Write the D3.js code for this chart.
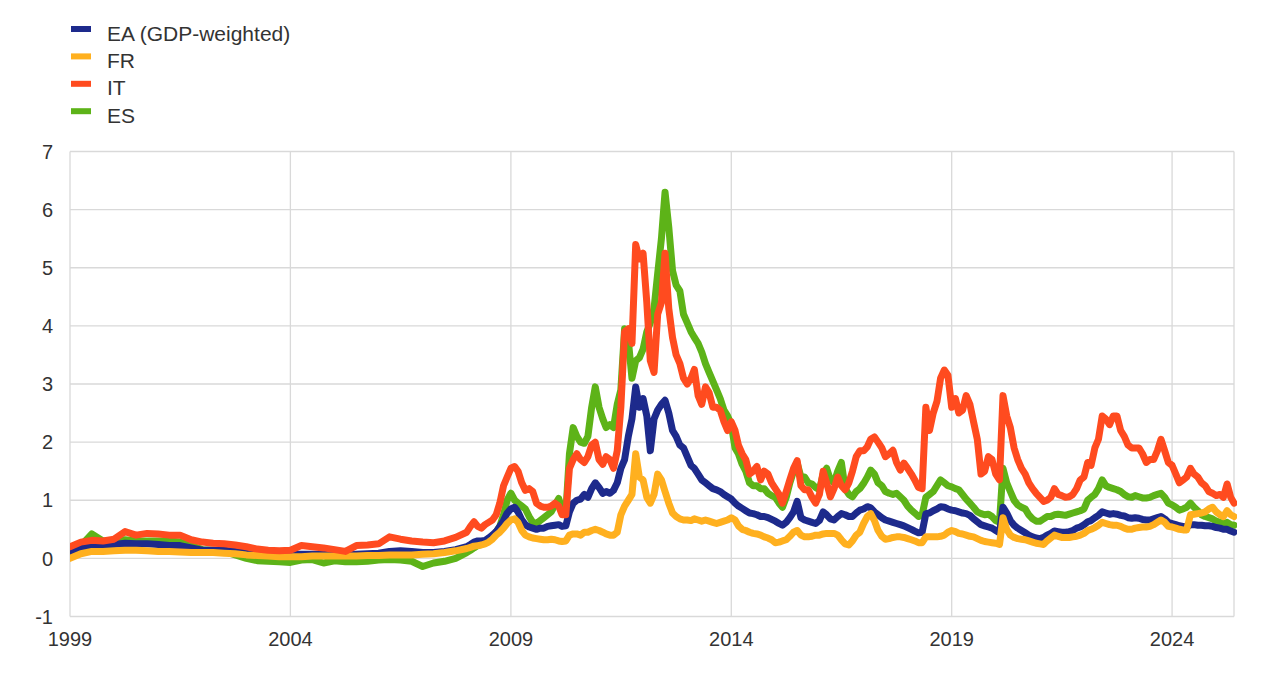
<!DOCTYPE html>
<html>
<head>
<meta charset="utf-8">
<script src="https://cdn.jsdelivr.net/npm/d3@7"></script>
<style>
  html, body { margin: 0; padding: 0; background: #fff; }
  svg { display: block; font-family: "Liberation Sans", Arial, sans-serif; }
</style>
</head>
<body>
<svg id="chart" width="1273" height="695"></svg>
<script>
// ---------------- DATA ----------------
const dates = [
  "1999-01","1999-04","1999-07","1999-10",
  "2000-01","2000-04","2000-07","2000-10",
  "2001-01","2001-04","2001-07","2001-10",
  "2002-01","2002-04","2002-07","2002-10",
  "2003-01","2003-04","2003-07","2003-10",
  "2004-01","2004-04","2004-07","2004-10",
  "2005-01","2005-04","2005-07","2005-10",
  "2006-01","2006-04","2006-07","2006-10",
  "2007-01","2007-04","2007-07","2007-10",
  "2008-01","2008-02","2008-03","2008-04","2008-05","2008-06","2008-07","2008-08","2008-09","2008-10","2008-11","2008-12",
  "2009-01","2009-02","2009-03","2009-04","2009-05","2009-06","2009-07","2009-08","2009-09","2009-10","2009-11","2009-12",
  "2010-01","2010-02","2010-03","2010-04","2010-05","2010-06","2010-07","2010-08","2010-09","2010-10","2010-11","2010-12",
  "2011-01","2011-02","2011-03","2011-04","2011-05","2011-06","2011-07","2011-08","2011-09","2011-10","2011-11","2011-12",
  "2012-01","2012-02","2012-03","2012-04","2012-05","2012-06","2012-07","2012-08","2012-09","2012-10","2012-11","2012-12",
  "2013-01","2013-02","2013-03","2013-04","2013-05","2013-06","2013-07","2013-08","2013-09","2013-10","2013-11","2013-12",
  "2014-01","2014-02","2014-03","2014-04","2014-05","2014-06","2014-07","2014-08","2014-09","2014-10","2014-11","2014-12",
  "2015-01","2015-02","2015-03","2015-04","2015-05","2015-06","2015-07","2015-08","2015-09","2015-10","2015-11","2015-12",
  "2016-01","2016-02","2016-03","2016-04","2016-05","2016-06","2016-07","2016-08","2016-09","2016-10","2016-11","2016-12",
  "2017-01","2017-02","2017-03","2017-04","2017-05","2017-06","2017-07","2017-08","2017-09","2017-10","2017-11","2017-12",
  "2018-01","2018-02","2018-03","2018-04","2018-05","2018-06","2018-07","2018-08","2018-09","2018-10","2018-11","2018-12",
  "2019-01","2019-02","2019-03","2019-04","2019-05","2019-06","2019-07","2019-08","2019-09","2019-10","2019-11","2019-12",
  "2020-01","2020-02","2020-03","2020-04","2020-05","2020-06","2020-07","2020-08","2020-09","2020-10","2020-11","2020-12",
  "2021-01","2021-02","2021-03","2021-04","2021-05","2021-06","2021-07","2021-08","2021-09","2021-10","2021-11","2021-12",
  "2022-01","2022-02","2022-03","2022-04","2022-05","2022-06","2022-07","2022-08","2022-09","2022-10","2022-11","2022-12",
  "2023-01","2023-02","2023-03","2023-04","2023-05","2023-06","2023-07","2023-08","2023-09","2023-10","2023-11","2023-12",
  "2024-01","2024-02","2024-03","2024-04","2024-05","2024-06","2024-07","2024-08","2024-09","2024-10","2024-11","2024-12",
  "2025-01","2025-02","2025-03","2025-04","2025-05","2025-05-28"
];

const EA = [
  0.12,0.18,0.22,0.22, 0.24,0.26,0.25,0.25, 0.24,0.22,0.22,0.18, 0.14,0.14,0.14,0.12,
  0.10,0.08,0.07,0.07, 0.07,0.07,0.07,0.07, 0.07,0.06,0.07,0.08, 0.09,0.12,0.13,0.12,
  0.10,0.10,0.12,0.15,
  0.20,0.24,0.28,0.30,0.30,0.31,0.35,0.40,0.46,0.55,0.65,0.78,
  0.85,0.88,0.80,0.66,0.58,0.54,0.52,0.50,0.52,0.52,0.55,0.56,
  0.57,0.58,0.55,0.56,0.80,0.95,1.00,1.02,1.10,1.05,1.20,1.30,
  1.22,1.12,1.15,1.12,1.17,1.30,1.55,1.70,2.10,2.40,2.95,2.60,
  2.75,2.45,1.85,2.40,2.55,2.65,2.72,2.50,2.20,2.10,1.95,1.90,
  1.75,1.60,1.55,1.45,1.35,1.30,1.25,1.20,1.18,1.15,1.10,1.06,
  1.02,0.95,0.90,0.86,0.82,0.78,0.77,0.75,0.72,0.72,0.70,0.67,
  0.64,0.60,0.57,0.62,0.70,0.80,0.98,0.70,0.66,0.64,0.62,0.60,
  0.65,0.80,0.75,0.68,0.66,0.72,0.77,0.75,0.72,0.72,0.78,0.83,
  0.85,0.89,0.87,0.80,0.75,0.70,0.66,0.64,0.62,0.60,0.58,0.56,
  0.53,0.50,0.47,0.44,0.45,0.77,0.78,0.82,0.85,0.89,0.88,0.85,
  0.83,0.82,0.80,0.78,0.77,0.74,0.68,0.63,0.58,0.56,0.54,0.52,
  0.48,0.44,0.88,0.78,0.65,0.57,0.52,0.48,0.44,0.40,0.37,0.35,
  0.34,0.36,0.40,0.43,0.47,0.46,0.45,0.45,0.46,0.48,0.52,0.54,
  0.58,0.63,0.65,0.70,0.74,0.80,0.78,0.76,0.77,0.76,0.74,0.73,
  0.70,0.69,0.70,0.69,0.67,0.66,0.66,0.68,0.70,0.72,0.68,0.62,
  0.60,0.58,0.56,0.55,0.54,0.58,0.58,0.57,0.57,0.56,0.56,0.55,
  0.53,0.52,0.50,0.50,0.47,0.45
];

const FR = [
  0.00,0.08,0.12,0.12, 0.13,0.14,0.14,0.13, 0.12,0.12,0.11,0.10, 0.10,0.10,0.09,0.08,
  0.06,0.05,0.04,0.03, 0.03,0.03,0.04,0.04, 0.04,0.04,0.04,0.05, 0.05,0.06,0.06,0.06,
  0.07,0.08,0.10,0.13,
  0.17,0.19,0.21,0.22,0.23,0.25,0.28,0.33,0.40,0.45,0.52,0.60,
  0.66,0.68,0.62,0.48,0.40,0.37,0.35,0.34,0.33,0.32,0.32,0.33,
  0.32,0.30,0.29,0.30,0.40,0.42,0.42,0.40,0.45,0.45,0.48,0.50,
  0.48,0.45,0.42,0.40,0.40,0.45,0.75,0.90,1.00,1.10,1.80,1.40,
  1.35,1.05,0.95,1.10,1.45,1.35,1.15,0.95,0.78,0.72,0.68,0.66,
  0.66,0.65,0.68,0.66,0.64,0.66,0.64,0.62,0.60,0.62,0.64,0.66,
  0.70,0.66,0.56,0.50,0.48,0.45,0.43,0.42,0.40,0.37,0.35,0.32,
  0.27,0.28,0.30,0.32,0.38,0.45,0.48,0.40,0.37,0.37,0.38,0.40,
  0.40,0.42,0.43,0.43,0.43,0.40,0.32,0.25,0.23,0.30,0.40,0.45,
  0.60,0.72,0.77,0.65,0.48,0.38,0.33,0.34,0.36,0.37,0.37,0.36,
  0.34,0.32,0.30,0.27,0.27,0.37,0.37,0.37,0.37,0.38,0.40,0.45,
  0.48,0.46,0.43,0.42,0.40,0.38,0.37,0.34,0.31,0.29,0.28,0.27,
  0.26,0.24,0.70,0.50,0.40,0.36,0.34,0.33,0.32,0.30,0.28,0.26,
  0.25,0.24,0.30,0.35,0.40,0.38,0.36,0.36,0.36,0.37,0.38,0.40,
  0.43,0.48,0.50,0.53,0.57,0.62,0.60,0.58,0.57,0.57,0.55,0.52,
  0.50,0.50,0.52,0.53,0.54,0.54,0.55,0.58,0.62,0.66,0.62,0.55,
  0.54,0.52,0.50,0.49,0.49,0.75,0.76,0.77,0.78,0.80,0.85,0.88,
  0.80,0.75,0.72,0.82,0.75,0.72
];

const IT = [
  0.20,0.28,0.31,0.30, 0.33,0.46,0.40,0.43, 0.42,0.40,0.40,0.32, 0.28,0.26,0.25,0.23,
  0.20,0.16,0.14,0.13, 0.14,0.22,0.20,0.18, 0.15,0.12,0.22,0.23, 0.25,0.37,0.33,0.30,
  0.28,0.27,0.30,0.36,
  0.45,0.55,0.63,0.55,0.52,0.58,0.62,0.66,0.75,0.95,1.25,1.40,
  1.55,1.58,1.50,1.30,1.17,1.20,1.15,0.95,0.90,0.88,0.88,0.90,
  0.95,0.90,0.75,0.75,1.55,1.70,1.80,1.70,1.65,1.75,1.95,2.00,
  1.70,1.62,1.75,1.70,1.55,1.85,2.60,3.90,3.95,3.70,5.40,5.15,
  5.25,4.40,3.40,3.20,4.20,4.40,5.25,4.30,3.80,3.50,3.35,3.10,
  3.00,3.10,3.25,2.80,2.65,2.95,2.85,2.60,2.60,2.55,2.35,2.20,
  2.35,2.20,1.95,1.80,1.70,1.45,1.50,1.58,1.35,1.50,1.45,1.30,
  1.20,1.10,0.95,1.15,1.35,1.55,1.68,1.25,1.18,1.18,1.05,0.95,
  1.10,1.50,1.30,1.06,1.20,1.40,1.25,1.18,1.30,1.50,1.75,1.85,
  1.85,1.92,2.05,2.09,2.00,1.90,1.75,1.80,1.86,1.65,1.52,1.64,
  1.55,1.45,1.35,1.22,1.20,2.60,2.20,2.50,2.70,3.10,3.24,3.15,
  2.60,2.75,2.50,2.55,2.80,2.65,2.35,2.05,1.45,1.50,1.75,1.70,
  1.45,1.35,2.80,2.45,2.25,1.90,1.70,1.55,1.45,1.30,1.20,1.12,
  1.05,0.98,1.00,1.05,1.20,1.10,1.08,1.05,1.06,1.10,1.20,1.35,
  1.40,1.65,1.60,1.90,2.05,2.45,2.40,2.30,2.45,2.45,2.20,2.10,
  1.95,1.90,1.90,1.90,1.80,1.65,1.70,1.70,1.85,2.05,1.85,1.65,
  1.60,1.45,1.30,1.35,1.40,1.55,1.45,1.40,1.30,1.25,1.15,1.12,
  1.08,1.10,1.05,1.28,1.05,0.95
];

const ES = [
  0.08,0.22,0.42,0.30, 0.30,0.32,0.30,0.30, 0.30,0.30,0.28,0.22, 0.15,0.14,0.12,0.06,
  0.00,-0.04,-0.05,-0.06, -0.07,-0.03,-0.02,-0.08, -0.04,-0.06,-0.06,-0.05, -0.03,-0.02,-0.03,-0.05,
  -0.14,-0.08,-0.05,0.00,
  0.10,0.14,0.18,0.22,0.24,0.26,0.30,0.36,0.45,0.55,0.75,1.00,
  1.12,1.00,0.95,0.90,0.85,0.72,0.62,0.60,0.65,0.70,0.75,0.80,
  0.92,1.03,0.85,0.78,1.80,2.25,2.10,2.00,1.98,2.10,2.60,2.95,
  2.60,2.40,2.25,2.30,2.25,2.65,2.90,3.95,3.75,3.10,3.40,3.45,
  3.60,3.90,4.05,4.30,4.90,5.50,6.30,5.70,4.95,4.70,4.60,4.20,
  4.05,3.90,3.80,3.70,3.55,3.35,3.20,3.05,2.90,2.75,2.55,2.45,
  2.30,1.90,1.80,1.62,1.50,1.30,1.25,1.25,1.20,1.20,1.12,1.08,
  1.05,0.95,0.88,1.05,1.30,1.50,1.64,1.40,1.40,1.30,1.28,1.22,
  1.18,1.45,1.55,1.35,1.30,1.50,1.65,1.20,1.10,1.06,1.15,1.20,
  1.29,1.40,1.52,1.45,1.30,1.25,1.15,1.12,1.10,1.12,1.06,1.00,
  0.90,0.83,0.78,0.72,0.75,1.05,1.10,1.15,1.25,1.35,1.30,1.25,
  1.23,1.20,1.18,1.10,1.02,0.95,0.88,0.80,0.77,0.75,0.76,0.72,
  0.65,0.62,1.55,1.30,1.15,1.00,0.92,0.88,0.85,0.75,0.68,0.64,
  0.64,0.68,0.72,0.72,0.75,0.76,0.75,0.74,0.76,0.78,0.80,0.82,
  0.85,1.00,1.05,1.10,1.20,1.35,1.25,1.22,1.20,1.18,1.15,1.10,
  1.06,1.05,1.08,1.06,1.04,1.04,1.05,1.08,1.10,1.12,1.05,0.95,
  0.92,0.88,0.83,0.85,0.88,0.95,0.88,0.82,0.75,0.72,0.70,0.68,
  0.64,0.62,0.60,0.62,0.58,0.57
];

const seriesNames = ["EA (GDP-weighted)", "FR", "IT", "ES"];
const seriesColors = ["#1d2a8c", "#ffb01f", "#ff4b1f", "#5db318"];
const yTicks = [-1, 0, 1, 2, 3, 4, 5, 6, 7];
const xTickYears = [1999, 2004, 2009, 2014, 2019, 2024];

// ---------------- CHART ----------------
const svg = d3.select("#chart");
const W = 1273, H = 695;
const margin = { left: 70, right: 39, top: 151.5, bottom: 78.5 };
const plotW = W - margin.left - margin.right;
const plotH = H - margin.top - margin.bottom;

svg.append("rect").attr("width", W).attr("height", H).attr("fill", "#fff");

const parsed = dates.map(d => d3.isoParse(d));
const x = d3.scaleUtc()
  .domain([d3.isoParse("1999-01-01"), parsed[parsed.length - 1]])
  .range([margin.left, margin.left + plotW]);
const y = d3.scaleLinear().domain([-1, 7]).range([margin.top + plotH, margin.top]);

const gridColor = "#d9d9d9";
const g = svg.append("g");

// horizontal grid
g.append("g").selectAll("line").data(yTicks).join("line")
  .attr("x1", margin.left).attr("x2", margin.left + plotW)
  .attr("y1", d => y(d)).attr("y2", d => y(d))
  .attr("stroke", gridColor).attr("stroke-width", 1.3);

// vertical grid
const xTickDates = xTickYears.map(yr => new Date(Date.UTC(yr, 0, 1)));
g.append("g").selectAll("line").data(xTickDates).join("line")
  .attr("x1", d => x(d)).attr("x2", d => x(d))
  .attr("y1", margin.top).attr("y2", margin.top + plotH)
  .attr("stroke", gridColor).attr("stroke-width", 1.3);
// right border
g.append("line")
  .attr("x1", margin.left + plotW).attr("x2", margin.left + plotW)
  .attr("y1", margin.top).attr("y2", margin.top + plotH)
  .attr("stroke", gridColor).attr("stroke-width", 1.3);

// y tick labels
g.append("g").selectAll("text").data(yTicks).join("text")
  .attr("x", 53).attr("y", d => y(d)).attr("dy", "0.36em")
  .attr("text-anchor", "end").attr("font-size", 20).attr("fill", "#333")
  .text(d => d);

// x tick labels
g.append("g").selectAll("text").data(xTickDates).join("text")
  .attr("x", d => x(d)).attr("y", 646)
  .attr("text-anchor", "middle").attr("font-size", 20).attr("fill", "#333")
  .text(d => d3.utcFormat("%Y")(d));

// lines (draw order: ES, EA, FR, IT)
const seriesValues = [EA, FR, IT, ES];
const drawOrder = [3, 0, 1, 2];
const line = d3.line()
  .x((d, i) => x(parsed[i]))
  .y(d => y(d));

const clip = svg.append("clipPath").attr("id", "plotclip")
  .append("rect").attr("x", margin.left).attr("y", 0)
  .attr("width", plotW + 3).attr("height", H);

const lg = svg.append("g").attr("clip-path", "url(#plotclip)");
drawOrder.forEach(k => {
  lg.append("path")
    .datum(seriesValues[k])
    .attr("d", line)
    .attr("fill", "none")
    .attr("stroke", seriesColors[k])
    .attr("stroke-width", 7)
    .attr("stroke-linejoin", "round")
    .attr("stroke-linecap", "round");
});

// legend
const legend = svg.append("g");
seriesNames.forEach((name, i) => {
  const cy = 29 + i * 27.4;
  legend.append("rect")
    .attr("x", 71).attr("y", cy - 3).attr("width", 20).attr("height", 6)
    .attr("fill", seriesColors[i]);
  legend.append("text")
    .attr("x", 107).attr("y", cy + 11.5)
    .attr("font-size", 21).attr("fill", "#333")
    .text(name);
});
</script>
</body>
</html>
